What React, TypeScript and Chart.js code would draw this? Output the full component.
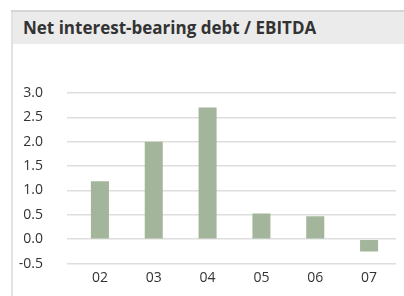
import React, { useEffect, useRef } from "react";
import { Chart, registerables } from "chart.js";

Chart.register(...registerables);

const title = "Net interest-bearing debt / EBITDA";
const categories = ["02", "03", "04", "05", "06", "07"];
const values = [1.19, 2.0, 2.7, 0.53, 0.47, -0.25];
const yMin = -0.5;
const yMax = 3.0;
const yStep = 0.5;

export default function App() {
  const ref = useRef<HTMLCanvasElement | null>(null);

  useEffect(() => {
    if (!ref.current) return;
    const chart = new Chart(ref.current, {
      type: "bar",
      data: {
        labels: categories,
        datasets: [
          {
            data: values,
            backgroundColor: "#a3b69b",
            borderWidth: 0,
            barPercentage: 0.335,
            categoryPercentage: 1,
          },
        ],
      },
      options: {
        animation: false,
        responsive: false,
        maintainAspectRatio: false,
        layout: { padding: { top: 49, right: 8, bottom: 0, left: 0 } },
        plugins: { legend: { display: false }, tooltip: { enabled: false }, title: { display: false } },
        scales: {
          x: {
            grid: { display: false, drawTicks: false },
            border: { display: false },
            ticks: {
              padding: 6,
              color: "#333333",
              font: { family: "'Open Sans', sans-serif", size: 14 },
            },
            afterFit: (s: any) => {
              s.height = 32;
            },
          },
          y: {
            min: yMin,
            max: yMax,
            border: { display: false },
            grid: { color: "#dedede", lineWidth: 1.5, tickLength: 6, drawTicks: true },
            ticks: {
              stepSize: yStep,
              padding: 24,
              color: "#333333",
              font: { family: "'Open Sans', sans-serif", size: 14 },
              callback: (v: any) => Number(v).toFixed(1),
            },
            afterFit: (s: any) => {
              s.width = 60;
            },
          },
        },
      },
    });
    return () => chart.destroy();
  }, []);

  return (
    <div style={{ position: "fixed", left: 0, top: 0, width: 404, height: 296, background: "#ffffff", overflow: "hidden" }}>
      <div style={{ position: "absolute", left: 11, top: 10, width: 393, height: 2, background: "#d6d6d6" }} />
      <div style={{ position: "absolute", left: 11, top: 12, width: 2, height: 284, background: "#e2e2e2" }} />
      <div
        style={{
          position: "absolute",
          left: 13,
          top: 12,
          width: 391,
          height: 32,
          background: "#ebebeb",
          boxSizing: "border-box",
          paddingLeft: 10,
          fontFamily: "'Open Sans', sans-serif",
          fontWeight: 700,
          fontSize: 17,
          lineHeight: "32px",
          color: "#333333",
          whiteSpace: "nowrap",
        }}
      >
        {title}
      </div>
      <canvas ref={ref} width={391} height={252} style={{ position: "absolute", left: 13, top: 44, width: 391, height: 252 }} />
    </div>
  );
}
